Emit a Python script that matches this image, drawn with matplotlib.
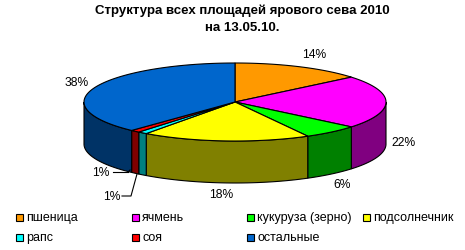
import numpy as np
import matplotlib.pyplot as plt
from matplotlib.patches import Polygon, Rectangle

plt.rcParams['font.family'] = ['Liberation Sans', 'DejaVu Sans']

# data
crops = ['пшеница', 'ячмень', 'кукуруза (зерно)', 'подсолнечник',
         'рапс', 'соя', 'остальные']
shares = [14, 22, 6, 18, 1, 1, 38]
labels = ['14%', '22%', '6%', '18%', '1%', '1%', '38%']

top_colors = ['#FF9900', '#FF00FF', '#00FF00', '#FFFF00',
              '#00FFFF', '#FF0000', '#0066CC']
side_colors = ['#804C00', '#800080', '#008000', '#808000',
               '#008080', '#800000', '#003366']

# layout (pixels, y down)
cx, cy = 235, 103
a, b = 151, 39
depth = 42
label_pos = [(314, 55), (403, 143), (342, 185), (221, 195),
             (112, 197), (101, 173), (77, 83)]


def ell(theta):
    # theta in degrees, clockwise from 12 o'clock
    t = np.radians(theta)
    return cx + a * np.sin(t), cy - b * np.cos(t)


def main():
    fig = plt.figure(figsize=(4.65, 2.51), dpi=100)
    ax = fig.add_axes([0, 0, 1, 1])
    ax.set_xlim(0, 465)
    ax.set_ylim(251, 0)
    ax.axis('off')

    frac = np.array(shares, dtype=float) / sum(shares)
    edges = np.concatenate([[0], np.cumsum(frac) * 360])

    # side walls (front half only: 90..270 deg)
    for i in range(len(shares)):
        t1 = max(edges[i], 90)
        t2 = min(edges[i + 1], 270)
        if t2 <= t1:
            continue
        th = np.linspace(t1, t2, 60)
        x, y = ell(th)
        pts = list(zip(x, y)) + list(zip(x[::-1], y[::-1] + depth))
        ax.add_patch(Polygon(pts, closed=True, facecolor=side_colors[i],
                             edgecolor='black', linewidth=0.8))

    # top wedges
    for i in range(len(shares)):
        th = np.linspace(edges[i], edges[i + 1], 100)
        x, y = ell(th)
        pts = [(cx, cy)] + list(zip(x, y))
        ax.add_patch(Polygon(pts, closed=True, facecolor=top_colors[i],
                             edgecolor='black', linewidth=0.8))

    # labels
    for (lx, ly), txt in zip(label_pos, labels):
        ax.text(lx, ly, txt, fontsize=8.7, ha='center', va='center')

    # leader lines for the small slices
    ax.plot([122, 131, 137], [197, 197, 175], color='black', lw=0.8)
    ax.plot([113, 128], [173, 173], color='black', lw=0.8)
    ax.plot([128, 130], [173, 171], color='black', lw=0.8)

    # title
    ax.text(242, 11, 'Структура всех площадей ярового сева 2010',
            fontsize=9.5, fontweight='bold', ha='center', va='center')
    ax.text(242, 28, 'на 13.05.10.',
            fontsize=9.5, fontweight='bold', ha='center', va='center')

    # legend
    col_x = [16, 132, 247, 363]
    row_y = [218, 238]
    for i, name in enumerate(crops):
        r, c = divmod(i, 4)
        x0, y0 = col_x[c], row_y[r]
        ax.add_patch(Rectangle((x0, y0 - 3.5), 7, 7, facecolor=top_colors[i],
                               edgecolor='black', linewidth=0.8))
        ax.text(x0 + 10, y0, name, fontsize=9, ha='left', va='center')

    fig.savefig('out.png', dpi=100)


if __name__ == "__main__":
    main()
